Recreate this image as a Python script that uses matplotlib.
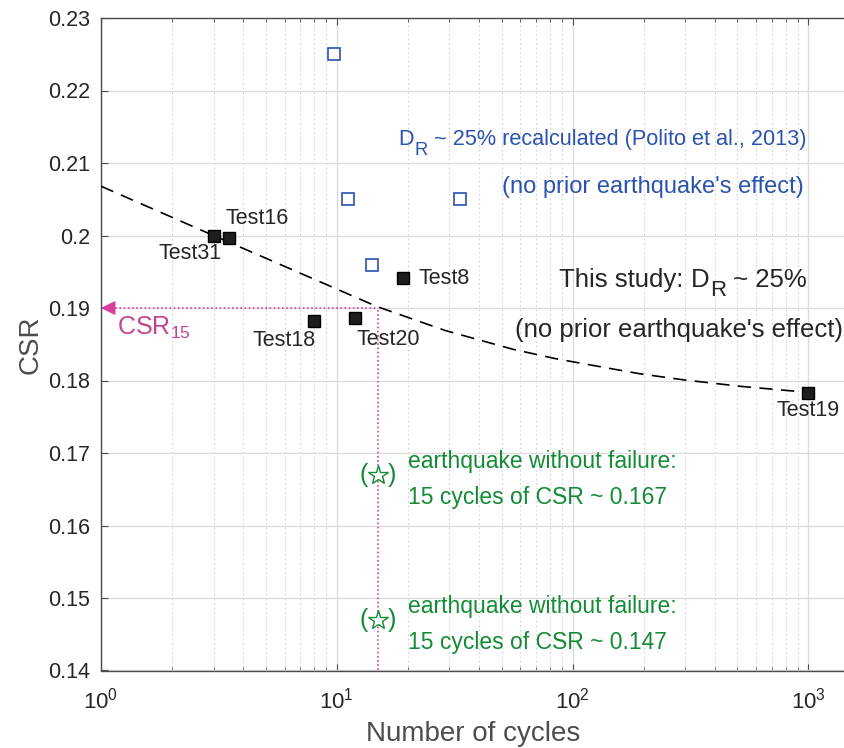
import math
import matplotlib
matplotlib.use("Agg")
import matplotlib.pyplot as plt
from matplotlib.ticker import FixedLocator, FuncFormatter, LogLocator, NullFormatter

plt.rcParams['font.family'] = ['Liberation Sans', 'DejaVu Sans']
plt.rcParams['mathtext.fontset'] = 'custom'
plt.rcParams['mathtext.rm'] = 'Liberation Sans'
plt.rcParams['mathtext.it'] = 'Liberation Sans'

# ---- data ----
test_names = ["Test31", "Test16", "Test18", "Test20", "Test8", "Test19"]
test_cycles = [3, 3.5, 8, 12, 19, 1000]
test_csr = [0.200, 0.1997, 0.1882, 0.1886, 0.1942, 0.1783]

polito_cycles = [9.7, 11.1, 14.1, 33.3]
polito_csr = [0.225, 0.205, 0.196, 0.205]

curve_cycles = [1, 3, 7.0, 14.8, 28.8, 55.9, 85, 131, 195, 294, 513, 895]
curve_csr = [0.2068, 0.2000, 0.1948, 0.1902, 0.1869, 0.1843, 0.1830, 0.1819,
             0.1809, 0.1801, 0.1792, 0.1785]

csr15_cycles = 15
csr15_value = 0.19

eq_cycles = [15, 15]
eq_csr = [0.167, 0.147]

y_ticks = [0.14, 0.15, 0.16, 0.17, 0.18, 0.19, 0.2, 0.21, 0.22, 0.23]

# ---- figure ----
fig = plt.figure(figsize=(8.45, 7.48), dpi=100)
ax = fig.add_axes([101/845, 1-670.5/748, 1-101/845, (670.5-18)/748])
ax.set_xscale('log')
ax.set_xlim(1, 10**3.155)
ax.set_ylim(0.14, 0.23)

dark = '#262626'
axis_col = '#4d4d4d'
mag = '#d63f9e'
blue = '#2a52b0'
green = '#138a35'

ax.yaxis.set_major_locator(FixedLocator(y_ticks))
ax.yaxis.set_major_formatter(FuncFormatter(lambda v, p: '%g' % round(v, 3)))
ax.xaxis.set_major_locator(LogLocator(base=10, numticks=10))
ax.xaxis.set_minor_locator(LogLocator(base=10, subs=range(2, 10), numticks=10))
ax.xaxis.set_minor_formatter(NullFormatter())
ax.xaxis.set_major_formatter(FuncFormatter(lambda v, p: r'$\mathregular{10^{%d}}$' % round(math.log10(v))))
ax.grid(True, which='major', color='#dcdcdc', lw=1.0, ls='-')
ax.grid(True, which='minor', axis='x', color='#d0d0d0', lw=0.8, ls=(0, (1.5, 2.5)))
ax.set_axisbelow(True)

for s in ['left', 'bottom', 'top']:
    ax.spines[s].set_color(axis_col)
    ax.spines[s].set_linewidth(1.0)
ax.spines['right'].set_visible(False)
ax.tick_params(which='both', direction='in', top=True, right=False, colors=axis_col,
               labelcolor=dark)
ax.tick_params(axis='y', labelsize=15.5, pad=8)
ax.tick_params(axis='x', labelsize=16, pad=12)
ax.tick_params(which='major', length=5)
ax.tick_params(which='minor', length=3)

# fitted trend (dashed)
ax.plot(curve_cycles, curve_csr, color='black', lw=1.2, ls=(0, (8, 5)), zorder=3)

# CSR15 construction
ax.plot([1.06, csr15_cycles], [csr15_value, csr15_value], color=mag, lw=1.2, ls=(0, (1, 1.5)), zorder=2)
ax.plot([csr15_cycles, csr15_cycles], [0.14, csr15_value], color=mag, lw=1.2, ls=(0, (1, 1.5)), zorder=2)
ax.annotate('', xy=(1, csr15_value), xytext=(1.08, csr15_value),
            arrowprops=dict(arrowstyle='-|>', color=mag, lw=1.0, mutation_scale=22,
                            shrinkA=0, shrinkB=0))
ax.text(1.17, 0.1872, r'CSR$_{\mathregular{15}}$', color='#c4458f', fontsize=18, va='center', ha='left')

# points
ax.plot(polito_cycles, polito_csr, ls='none', marker='s', ms=8.5, mfc='white', mec=blue, mew=1.2, zorder=4)
ax.plot(test_cycles, test_csr, ls='none', marker='s', ms=9, mfc='#1e1e1e', mec='black', mew=1.0, zorder=5)

# test labels
lab = {
    "Test31": (2.39, 0.1975, 'center'),
    "Test16": (4.6, 0.2024, 'center'),
    "Test18": (6.0, 0.1855, 'center'),
    "Test20": (16.5, 0.1856, 'center'),
    "Test8": (22.3, 0.1940, 'left'),
    "Test19": (1000, 0.1758, 'center'),
}
for n in test_names:
    x, y, ha = lab[n]
    ax.text(x, y, n, color=dark, fontsize=15.5, ha=ha, va='center')

# stars
for c, v in zip(eq_cycles, eq_csr):
    ax.plot([c], [v], ls='none', marker='*', ms=15, mfc='white', mec=green, mew=1.0, zorder=4)
    ax.text(c * 0.9, v, '(', color=green, fontsize=18, ha='right', va='center')
    ax.text(c * 1.1, v, ')', color=green, fontsize=18, ha='left', va='center')
    ax.text(20.0, v + 0.0018, 'earthquake without failure:', color=green, fontsize=16.5, ha='left', va='center')
    ax.text(20.0, v - 0.0031, '15 cycles of CSR ~ %.3f' % v, color=green, fontsize=16.5, ha='left', va='center')


def dr_text(x, y, size, color, tail, drop=6.0):
    t1 = ax.text(x, y, 'D', color=color, fontsize=size, ha='left', va='center')
    t2 = ax.annotate('R', xy=(1, 0), xycoords=t1, xytext=(0.5, -drop), textcoords='offset points',
                     color=color, fontsize=size * 0.85, ha='left', va='bottom')
    ax.annotate(tail, xy=(1, 0), xycoords=t2, xytext=(0, drop), textcoords='offset points',
                color=color, fontsize=size, ha='left', va='bottom')


# annotations
dr_text(18.2, 0.2132, 15.6, blue, ' ~ 25% recalculated (Polito et al., 2013)')
ax.text(219, 0.2067, "(no prior earthquake's effect)", color=blue, fontsize=17, ha='center', va='center')
t = ax.text(87.5, 0.1939, 'This study: ', color=dark, fontsize=18.5, ha='left', va='center')
t1 = ax.annotate('D', xy=(1, 0), xycoords=t, color=dark, fontsize=18.5, ha='left', va='bottom')
t2 = ax.annotate('R', xy=(1, 0), xycoords=t1, xytext=(0.5, -7), textcoords='offset points',
                 color=dark, fontsize=16, ha='left', va='bottom')
ax.annotate(' ~ 25%', xy=(1, 0), xycoords=t2, xytext=(0, 7), textcoords='offset points',
            color=dark, fontsize=18.5, ha='left', va='bottom')
ax.text(282, 0.1870, "(no prior earthquake's effect)", color=dark, fontsize=18.5, ha='center', va='center')

ax.set_xlabel('Number of cycles', fontsize=20, color=axis_col, labelpad=6)
ax.set_ylabel('CSR', fontsize=20, color=axis_col, labelpad=3)

fig.savefig('out.png', dpi=100)
